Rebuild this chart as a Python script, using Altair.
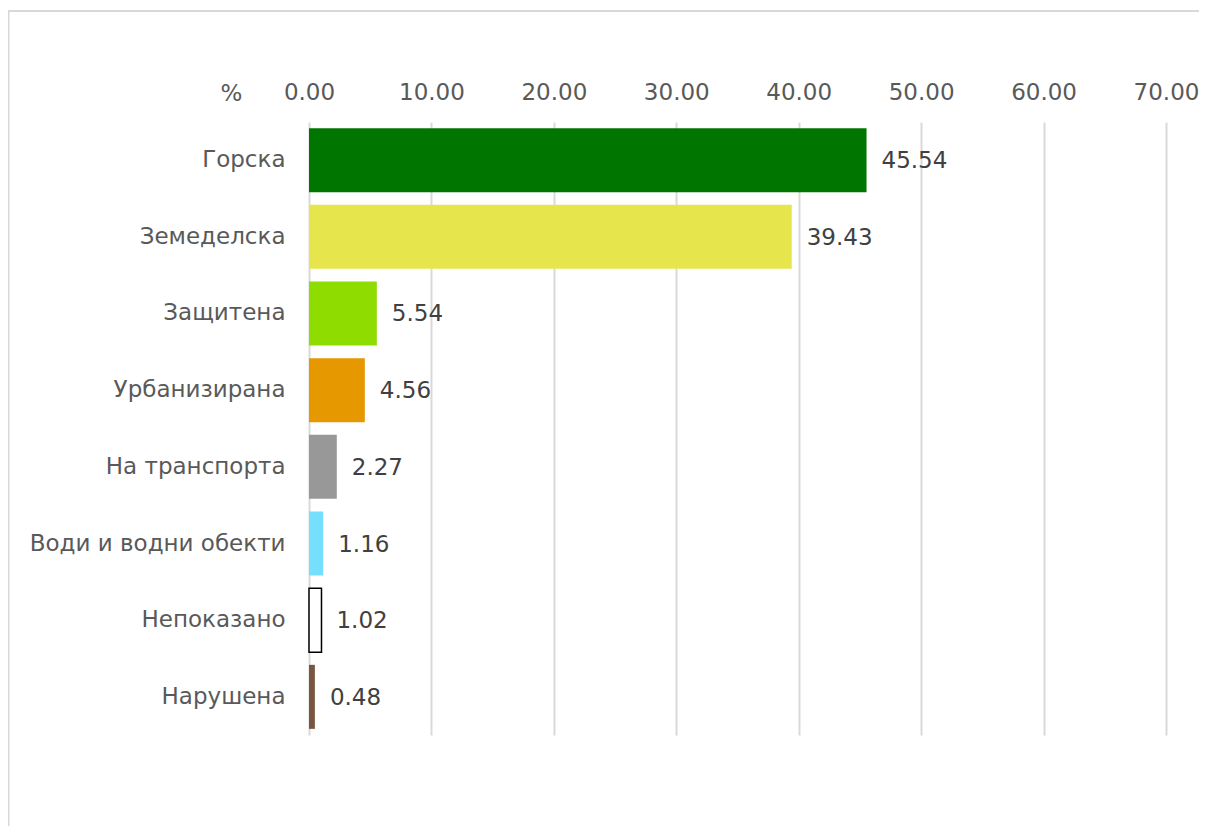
import altair as alt
import pandas as pd

categories = ["Горска", "Земеделска", "Защитена", "Урбанизирана", "На транспорта",
              "Води и водни обекти", "Непоказано", "Нарушена"]
values = [45.54, 39.43, 5.54, 4.56, 2.27, 1.16, 1.02, 0.48]
colors = ["#007600", "#E6E64C", "#8FDC00", "#E69800", "#989898", "#75DFFF", "#FFFFFF", "#7A5542"]
x_ticks = [0, 10, 20, 30, 40, 50, 60, 70]

df = pd.DataFrame({"cat": categories, "val": values})
FONT = "DejaVu Sans"
FS = 23

y_enc = alt.Y("cat:N", sort=categories,
              scale=alt.Scale(paddingInner=0.165, paddingOuter=0.08),
              axis=alt.Axis(title=None, ticks=False, domain=False, labelPadding=24,
                            labelFont=FONT, labelFontSize=FS, labelColor="#595959",
                            labelLimit=400))

bars = alt.Chart(df).mark_bar(stroke="black").encode(
    x=alt.X("val:Q", scale=alt.Scale(domain=[0, 70], nice=False),
            axis=alt.Axis(orient="top", values=x_ticks, format=".2f", ticks=False,
                          domain=False, grid=True, gridColor="#d9d9d9", gridWidth=2,
                          labelPadding=18, labelFont=FONT, labelFontSize=FS,
                          labelColor="#595959", title="%", titleFont=FONT,
                          titleFontSize=FS, titleFontWeight="normal", titleColor="#595959",
                          titleAngle=0, titleX=-78, titleY=-17, titleAlign="center",
                          titleBaseline="bottom", labelFlush=False)),
    y=y_enc,
    color=alt.Color("cat:N", scale=alt.Scale(domain=categories, range=colors), legend=None),
    strokeWidth=alt.condition("datum.cat === 'Непоказано'", alt.value(1.5), alt.value(0)),
)

labels = alt.Chart(df).mark_text(align="left", baseline="middle", dx=15, dy=1,
                                 font=FONT, fontSize=FS, color="#404040").encode(
    x="val:Q",
    y=alt.Y("cat:N", sort=categories),
    text=alt.Text("val:Q", format=".2f"),
)

frame_df = pd.DataFrame({"f": [1]})
frame = alt.Chart(frame_df).mark_rect(fill="transparent", stroke="#d9d9d9", strokeWidth=2).encode(
    x=alt.value(-300.5), x2=alt.value(3000), y=alt.value(-111), y2=alt.value(3000)
)

chart = alt.layer(frame, bars, labels).properties(
    width=857, height=613,
    autosize=alt.AutoSizeParams(type="none"),
    padding={"left": 301, "top": 114, "right": 33, "bottom": 91},
).configure(background="white", view=alt.ViewConfig(stroke="transparent", strokeWidth=0))

chart.save("out.html", embed_options={"renderer": "svg", "actions": False})
